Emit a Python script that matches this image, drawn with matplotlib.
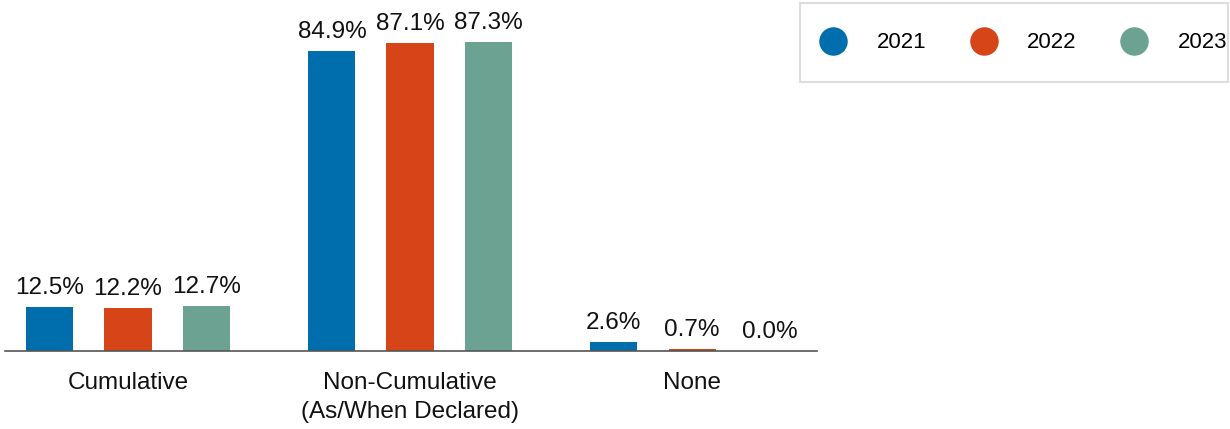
import numpy as np
import matplotlib.pyplot as plt
from matplotlib.lines import Line2D
from matplotlib.patches import Rectangle

categories = ['Cumulative', 'Non-Cumulative\n(As/When Declared)', 'None']
years = ['2021', '2022', '2023']
v2021 = [12.5, 84.9, 2.6]
v2022 = [12.2, 87.1, 0.7]
v2023 = [12.7, 87.3, 0.0]
colors = ['#006EAD', '#D64518', '#6BA291']

plt.rcParams['font.family'] = ['Liberation Sans', 'DejaVu Sans']
fs = 17.5

fig = plt.figure(figsize=(12.3, 4.29), dpi=100)
ax = fig.add_axes([5 / 1230, 1 - 351 / 429, 812 / 1230, 351 / 429])

x = np.arange(len(categories))
width = 0.167
offset = 0.277
for i, (vals, c) in enumerate(zip([v2021, v2022, v2023], colors)):
    pos = x + (i - 1) * offset
    ax.bar(pos, vals, width=width, color=c)
    for p, v in zip(pos, vals):
        ax.text(p, v + 2.2, f'{v:.1f}%', ha='center', va='bottom', fontsize=fs, color='#111111')

ax.set_xlim(-0.436, 2.443)
ax.set_ylim(0, 99.2)
ax.set_xticks(x)
ax.set_xticklabels(categories, fontsize=fs, color='#111111', linespacing=1.4)
ax.tick_params(axis='x', length=0, pad=15)
ax.set_yticks([])
for s in ['top', 'right', 'left']:
    ax.spines[s].set_visible(False)
ax.spines['bottom'].set_color('#555555')
ax.spines['bottom'].set_linewidth(1.2)

# legend box drawn separately so it can be taller than the entries
fig.patches.append(Rectangle((800 / 1230, 1 - 82 / 429), 428 / 1230, 79 / 429,
                             transform=fig.transFigure, fill=False,
                             edgecolor='#dddddd', linewidth=1.5))
handles = [Line2D([], [], marker='o', linestyle='none', markersize=19.5, color=c) for c in colors]
fig.legend(handles, years, loc='center left', bbox_to_anchor=(817.5 / 1230, 1 - 43 / 429),
           ncol=3, fontsize=16, frameon=False, borderpad=0, handlelength=1.4,
           handletextpad=1.25, columnspacing=1.9, borderaxespad=0)

fig.savefig('out.png', dpi=100)
